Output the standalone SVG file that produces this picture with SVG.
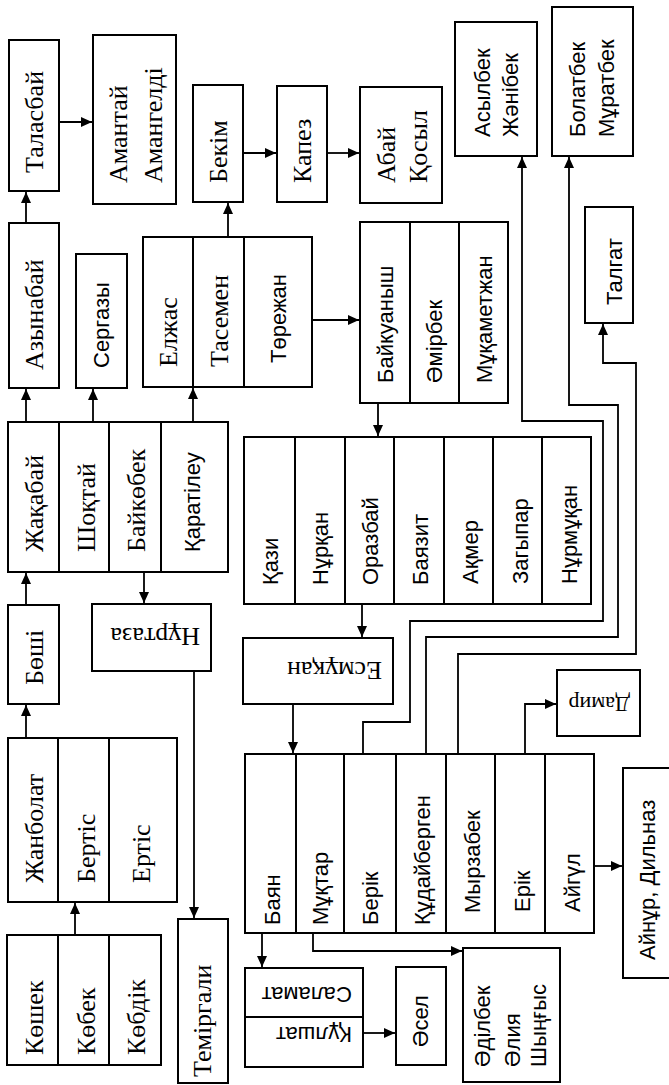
<svg xmlns="http://www.w3.org/2000/svg" width="669" height="1085" viewBox="0 0 669 1085">
<style>
.b{fill:#fff;stroke:#000;stroke-width:2}
.c{fill:none;stroke:#000;stroke-width:1.8}
.s{font-family:"Liberation Serif","Times New Roman",serif;font-size:26px;fill:#000}
.a{font-family:"Liberation Sans",Arial,sans-serif;font-size:22px;fill:#000}
</style>
<defs>
<marker id="ar" markerUnits="userSpaceOnUse" markerWidth="11" markerHeight="10" refX="11" refY="5" orient="auto"><path d="M0,0 L11,5 L0,10 z" fill="#000"/></marker>
</defs>
<rect width="669" height="1085" fill="#fff"/>

<g id="connectors">
<path class="c" d="M26,223 V192" marker-end="url(#ar)"/>
<path class="c" d="M59,122 H92" marker-end="url(#ar)"/>
<path class="c" d="M228,237 V203" marker-end="url(#ar)"/>
<path class="c" d="M243,153 H276" marker-end="url(#ar)"/>
<path class="c" d="M327,153 H359" marker-end="url(#ar)"/>
<path class="c" d="M312,320 H359" marker-end="url(#ar)"/>
<path class="c" d="M378,403 V436" marker-end="url(#ar)"/>
<path class="c" d="M26,422 V389" marker-end="url(#ar)"/>
<path class="c" d="M93,422 V389" marker-end="url(#ar)"/>
<path class="c" d="M193,422 V388" marker-end="url(#ar)"/>
<path class="c" d="M26,605 V573" marker-end="url(#ar)"/>
<path class="c" d="M144,572 V603" marker-end="url(#ar)"/>
<path class="c" d="M194,671 V918" marker-end="url(#ar)"/>
<path class="c" d="M26,738 V705" marker-end="url(#ar)"/>
<path class="c" d="M75,935 V903" marker-end="url(#ar)"/>
<path class="c" d="M362,604 V637" marker-end="url(#ar)"/>
<path class="c" d="M293,704 V753" marker-end="url(#ar)"/>
<path class="c" d="M363,754 V722 H410 V621 H603 V421 H522 V157" marker-end="url(#ar)"/>
<path class="c" d="M426,754 V637 H618 V405 H569 V157" marker-end="url(#ar)"/>
<path class="c" d="M458,754 V654 H636 V363 H603 V324" marker-end="url(#ar)"/>
<path class="c" d="M525,754 V704 H556" marker-end="url(#ar)"/>
<path class="c" d="M262,933 V967" marker-end="url(#ar)"/>
<path class="c" d="M363,1033 H395" marker-end="url(#ar)"/>
<path class="c" d="M313,933 V951 H462" marker-end="url(#ar)"/>
<path class="c" d="M594,866 H622" marker-end="url(#ar)"/>
</g>

<g id="n-talasbai"><rect class="b" x="9" y="40" width="50" height="151"/><text class="s" transform="translate(43,173) rotate(-90)">Таласбай</text></g>
<g id="n-amantai"><rect class="b" x="93" y="35" width="83" height="169"/><text class="s" transform="translate(127,183) rotate(-90)">Амантай</text><text class="s" transform="translate(162,183) rotate(-90)">Амангелді</text></g>
<g id="n-bekim"><rect class="b" x="193" y="85" width="50" height="117"/><text class="s" transform="translate(227,183) rotate(-90)">Бекім</text></g>
<g id="n-kapez"><rect class="b" x="277" y="86" width="50" height="116"/><text class="s" transform="translate(311,183) rotate(-90)">Капез</text></g>
<g id="n-abai"><rect class="b" x="360" y="87" width="82" height="116"/><text class="s" transform="translate(395,183) rotate(-90)">Абай</text><text class="s" transform="translate(427,183) rotate(-90)">Қосыл</text></g>
<g id="n-asylbek"><rect class="b" x="455" y="22" width="82" height="134"/><text class="a" transform="translate(490,137) rotate(-90)">Асылбек</text><text class="a" transform="translate(518,137) rotate(-90)">Жәнібек</text></g>
<g id="n-bolatbek"><rect class="b" x="552" y="7" width="81" height="149"/><text class="a" transform="translate(585,137) rotate(-90)">Болатбек</text><text class="a" transform="translate(614,137) rotate(-90)">Мұратбек</text></g>
<g id="n-talgat"><rect class="b" x="585" y="207" width="48" height="116"/><text class="a" transform="translate(622,305) rotate(-90)">Талгат</text></g>
<g id="n-azynabai"><rect class="b" x="9" y="223" width="50" height="165"/><text class="s" transform="translate(43,370) rotate(-90)">Азынабай</text></g>
<g id="n-sergazy"><rect class="b" x="76" y="254" width="51" height="134"/><text class="a" transform="translate(109,368) rotate(-90)">Сергазы</text></g>
<g id="n-elzhas"><rect class="b" x="143" y="237" width="50" height="150"/><text class="s" transform="translate(177,367) rotate(-90)">Елжас</text></g>
<g id="n-tasemen"><rect class="b" x="193" y="237" width="51" height="150"/><text class="s" transform="translate(228,367) rotate(-90)">Тасемен</text></g>
<g id="n-torezhan"><rect class="b" x="244" y="237" width="68" height="150"/><text class="a" transform="translate(286,363) rotate(-90)">Төрежан</text></g>
<g id="n-baikuanysh"><rect class="b" x="360" y="222" width="50" height="181"/><text class="a" transform="translate(393,383) rotate(-90)">Байкуаныш</text></g>
<g id="n-amirbek"><rect class="b" x="410" y="222" width="49" height="181"/><text class="a" transform="translate(442,383) rotate(-90)">Әмірбек</text></g>
<g id="n-mukametzhan"><rect class="b" x="459" y="222" width="49" height="181"/><text class="a" transform="translate(492,383) rotate(-90)">Мұқаметжан</text></g>
<g id="n-zhakabai"><rect class="b" x="8" y="422" width="51" height="150"/><text class="s" transform="translate(43,552) rotate(-90)">Жақабай</text></g>
<g id="n-shoktai"><rect class="b" x="59" y="422" width="50" height="150"/><text class="s" transform="translate(95,552) rotate(-90)">Шоқтай</text></g>
<g id="n-baikobek"><rect class="b" x="109" y="422" width="52" height="150"/><text class="s" transform="translate(145,552) rotate(-90)">Байкөбек</text></g>
<g id="n-karatileu"><rect class="b" x="161" y="422" width="67" height="150"/><text class="a" transform="translate(200,552) rotate(-90)">Қаратілеу</text></g>
<g id="n-boshi"><rect class="b" x="8" y="605" width="51" height="99"/><text class="s" transform="translate(43,685) rotate(-90)">Бөші</text></g>
<g id="n-nurtaza"><rect class="b" x="92" y="604" width="119" height="67"/><text class="s" transform="translate(200,628) rotate(180)">Нұртаза</text></g>
<g id="n-kazi"><rect class="b" x="244" y="437" width="51" height="167"/><text class="a" transform="translate(278,585) rotate(-90)">Қази</text></g>
<g id="n-nurkan"><rect class="b" x="295" y="437" width="50" height="167"/><text class="a" transform="translate(328,585) rotate(-90)">Нұрқан</text></g>
<g id="n-orazbai"><rect class="b" x="345" y="437" width="49" height="167"/><text class="a" transform="translate(378,585) rotate(-90)">Оразбай</text></g>
<g id="n-bayazit"><rect class="b" x="394" y="437" width="50" height="167"/><text class="a" transform="translate(428,585) rotate(-90)">Баязит</text></g>
<g id="n-akmer"><rect class="b" x="444" y="437" width="49" height="167"/><text class="a" transform="translate(478,584) rotate(-90)">Ақмер</text></g>
<g id="n-zagypar"><rect class="b" x="493" y="437" width="49" height="167"/><text class="a" transform="translate(528,584) rotate(-90)">Загыпар</text></g>
<g id="n-nurmukan"><rect class="b" x="542" y="437" width="49" height="167"/><text class="a" transform="translate(577,584) rotate(-90)">Нұрмұқан</text></g>
<g id="n-esmukan"><rect class="b" x="243" y="638" width="150" height="66"/><text class="s" transform="translate(382,662) rotate(180)">Есмұқан</text></g>
<g id="n-damir"><rect class="b" x="557" y="670" width="83" height="66"/><text class="s" style="font-size:22px" transform="translate(630,697) rotate(180)">Дамир</text></g>
<g id="n-zhanbolat"><rect class="b" x="8" y="738" width="50" height="164"/><text class="s" transform="translate(43,883) rotate(-90)">Жанболат</text></g>
<g id="n-bertis"><rect class="b" x="58" y="738" width="51" height="164"/><text class="s" transform="translate(95,883) rotate(-90)">Бертіс</text></g>
<g id="n-ertis"><rect class="b" x="109" y="738" width="68" height="164"/><text class="s" transform="translate(150,883) rotate(-90)">Ертіс</text></g>
<g id="n-koshek"><rect class="b" x="7" y="935" width="51" height="130"/><text class="s" transform="translate(43,1055) rotate(-90)">Көшек</text></g>
<g id="n-kobek"><rect class="b" x="58" y="935" width="51" height="130"/><text class="s" transform="translate(95,1055) rotate(-90)">Көбек</text></g>
<g id="n-kobdik"><rect class="b" x="109" y="935" width="52" height="130"/><text class="s" transform="translate(145,1055) rotate(-90)">Көбдік</text></g>
<g id="n-temirgali"><rect class="b" x="178" y="919" width="50" height="164"/><text class="s" transform="translate(211,1077) rotate(-90)">Теміргали</text></g>
<g id="n-bayan"><rect class="b" x="245" y="754" width="51" height="179"/><text class="a" transform="translate(280,925) rotate(-90)">Баян</text></g>
<g id="n-muktar"><rect class="b" x="296" y="754" width="48" height="179"/><text class="a" transform="translate(328,925) rotate(-90)">Мұқтар</text></g>
<g id="n-berik"><rect class="b" x="344" y="754" width="52" height="179"/><text class="a" transform="translate(378,925) rotate(-90)">Берік</text></g>
<g id="n-kudaibergen"><rect class="b" x="396" y="754" width="50" height="179"/><text class="a" transform="translate(430,925) rotate(-90)">Құдайберген</text></g>
<g id="n-myrzabek"><rect class="b" x="446" y="754" width="49" height="179"/><text class="a" transform="translate(480,913) rotate(-90)">Мырзабек</text></g>
<g id="n-erik"><rect class="b" x="495" y="754" width="50" height="179"/><text class="a" transform="translate(530,912) rotate(-90)">Ерік</text></g>
<g id="n-aigul"><rect class="b" x="545" y="754" width="49" height="179"/><text class="a" transform="translate(580,912) rotate(-90)">Айгүл</text></g>
<g id="n-ainur"><rect class="b" x="623" y="768" width="55" height="210"/><text class="a" transform="translate(655,960) rotate(-90)">Айнұр, Дильназ</text></g>
<g id="n-salamat"><rect class="b" x="245" y="968" width="118" height="49"/><text class="a" transform="translate(352,987) rotate(180)">Саламат</text></g>
<g id="n-kulshat"><rect class="b" x="245" y="1017" width="118" height="50"/><text class="a" transform="translate(352,1027) rotate(180)">Құлшат</text></g>
<g id="n-asel"><rect class="b" x="396" y="967" width="50" height="98"/><text class="a" transform="translate(428,1047) rotate(-90)">Әсел</text></g>
<g id="n-adilbek"><rect class="b" x="463" y="948" width="97" height="134"/><text class="a" transform="translate(490,1067) rotate(-90)">Әділбек</text><text class="a" transform="translate(520,1067) rotate(-90)">Әлия</text><text class="a" transform="translate(546,1067) rotate(-90)">Шыңғыс</text></g>
</svg>
